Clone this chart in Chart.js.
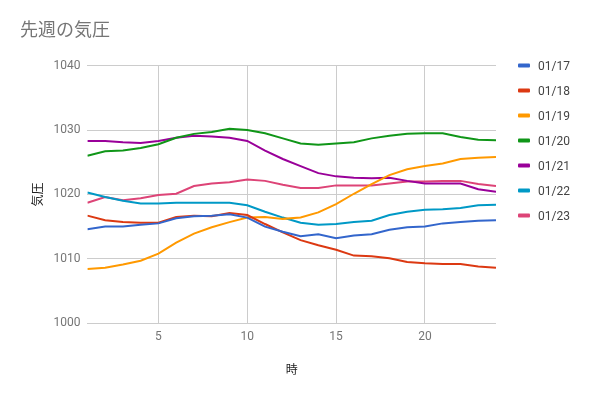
<!DOCTYPE html>
<html>
<head>
<meta charset="utf-8">
<script src="https://cdn.jsdelivr.net/npm/chart.js@4/dist/chart.umd.min.js"></script>
<style>
  body { margin: 0; background: #fff; }
</style>
</head>
<body>
<canvas id="pressureChart" width="591" height="397"></canvas>
<script>
const hours = [1, 2, 3, 4, 5, 6, 7, 8, 9, 10, 11, 12, 13, 14, 15, 16, 17, 18, 19, 20, 21, 22, 23, 24];
const dates = ['01/17', '01/18', '01/19', '01/20', '01/21', '01/22', '01/23'];
const p0117 = [1014.6, 1015.0, 1015.0, 1015.3, 1015.5, 1016.3, 1016.6, 1016.7, 1016.9, 1016.4, 1015.0, 1014.2, 1013.5, 1013.8, 1013.2, 1013.6, 1013.8, 1014.5, 1014.9, 1015.0, 1015.5, 1015.7, 1015.9, 1016.0];
const p0118 = [1016.7, 1016.0, 1015.7, 1015.6, 1015.6, 1016.5, 1016.7, 1016.6, 1017.1, 1016.8, 1015.4, 1014.1, 1012.9, 1012.1, 1011.4, 1010.5, 1010.4, 1010.1, 1009.5, 1009.3, 1009.2, 1009.2, 1008.8, 1008.6];
const p0119 = [1008.4, 1008.6, 1009.1, 1009.7, 1010.8, 1012.5, 1013.9, 1014.9, 1015.7, 1016.4, 1016.5, 1016.2, 1016.4, 1017.2, 1018.5, 1020.1, 1021.6, 1023.0, 1023.9, 1024.4, 1024.8, 1025.5, 1025.7, 1025.8];
const p0120 = [1026.0, 1026.7, 1026.8, 1027.2, 1027.8, 1028.8, 1029.4, 1029.7, 1030.2, 1030.0, 1029.5, 1028.7, 1027.9, 1027.7, 1027.9, 1028.1, 1028.7, 1029.1, 1029.4, 1029.5, 1029.5, 1028.9, 1028.5, 1028.4];
const p0121 = [1028.3, 1028.3, 1028.1, 1028.0, 1028.3, 1028.8, 1029.1, 1029.0, 1028.8, 1028.3, 1026.8, 1025.5, 1024.4, 1023.3, 1022.8, 1022.6, 1022.5, 1022.6, 1022.1, 1021.7, 1021.7, 1021.7, 1020.8, 1020.4];
const p0122 = [1020.3, 1019.6, 1019.0, 1018.6, 1018.6, 1018.7, 1018.7, 1018.7, 1018.7, 1018.3, 1017.3, 1016.4, 1015.6, 1015.3, 1015.4, 1015.7, 1015.9, 1016.8, 1017.3, 1017.6, 1017.7, 1017.9, 1018.3, 1018.4];
const p0123 = [1018.7, 1019.6, 1019.1, 1019.4, 1019.9, 1020.1, 1021.3, 1021.7, 1021.9, 1022.3, 1022.1, 1021.5, 1021.0, 1021.0, 1021.4, 1021.4, 1021.4, 1021.7, 1022.0, 1022.0, 1022.1, 1022.1, 1021.6, 1021.3];
const xTicks = [5, 10, 15, 20];
const yTicks = [1000, 1010, 1020, 1030, 1040];

const series = [p0117, p0118, p0119, p0120, p0121, p0122, p0123];
const colors = ['#3366cc', '#dc3912', '#ff9900', '#109618', '#990099', '#0099c6', '#dd4477'];
const fontFamily = "Roboto, 'Noto Sans CJK JP', sans-serif";

// legend drawn beside the plot, lined up with the top gridline
const sideLegend = {
    id: 'sideLegend',
    afterDraw(chart) {
        const ctx = chart.ctx;
        const area = chart.chartArea;
        ctx.save();
        ctx.font = `12px ${fontFamily}`;
        ctx.textBaseline = 'middle';
        chart.data.datasets.forEach((ds, i) => {
            const x = area.right + 22;
            const y = area.top + i * 25;
            ctx.fillStyle = ds.borderColor;
            ctx.beginPath();
            ctx.roundRect(x, y - 2, 12, 4, 1);
            ctx.fill();
            ctx.fillStyle = '#444';
            ctx.fillText(ds.label, x + 20, y + 1);
        });
        ctx.restore();
    }
};

new Chart(document.getElementById('pressureChart'), {
    type: 'line',
    data: {
        datasets: series.map((vals, i) => ({
            label: dates[i],
            data: vals.map((v, j) => ({ x: hours[j], y: v })),
            borderColor: colors[i],
            backgroundColor: colors[i],
            borderWidth: 2,
            pointRadius: 0,
            tension: 0
        }))
    },
    options: {
        responsive: false,
        animation: false,
        events: [],
        layout: { padding: { left: 20, right: 95, top: 0, bottom: 0 } },
        plugins: {
            legend: { display: false },
            tooltip: { enabled: false },
            title: {
                display: true,
                text: '先週の気圧',
                align: 'start',
                color: '#757575',
                font: { family: fontFamily, size: 18, weight: 'normal' },
                padding: { top: 21, bottom: 23 }
            }
        },
        scales: {
            x: {
                type: 'linear',
                min: 1,
                max: 24,
                afterBuildTicks: scale => { scale.ticks = xTicks.map(v => ({ value: v })); },
                grid: { color: '#cccccc', drawTicks: false },
                border: { display: false },
                ticks: { color: '#757575', padding: 7, font: { family: fontFamily, size: 12 } },
                title: {
                    display: true,
                    text: '時',
                    color: '#222',
                    font: { family: fontFamily, size: 12 },
                    padding: { top: 12, bottom: 19 }
                }
            },
            y: {
                min: 1000,
                max: 1040,
                afterBuildTicks: scale => { scale.ticks = yTicks.map(v => ({ value: v })); },
                grid: { color: '#cccccc', drawTicks: false },
                border: { display: false },
                ticks: {
                    color: '#757575',
                    padding: 7,
                    font: { family: fontFamily, size: 12 },
                    callback: v => String(v)
                },
                title: {
                    display: true,
                    text: '気圧',
                    color: '#222',
                    font: { family: fontFamily, size: 12 },
                    padding: { top: 12, bottom: 0 }
                }
            }
        }
    },
    plugins: [sideLegend]
});
</script>
</body>
</html>
